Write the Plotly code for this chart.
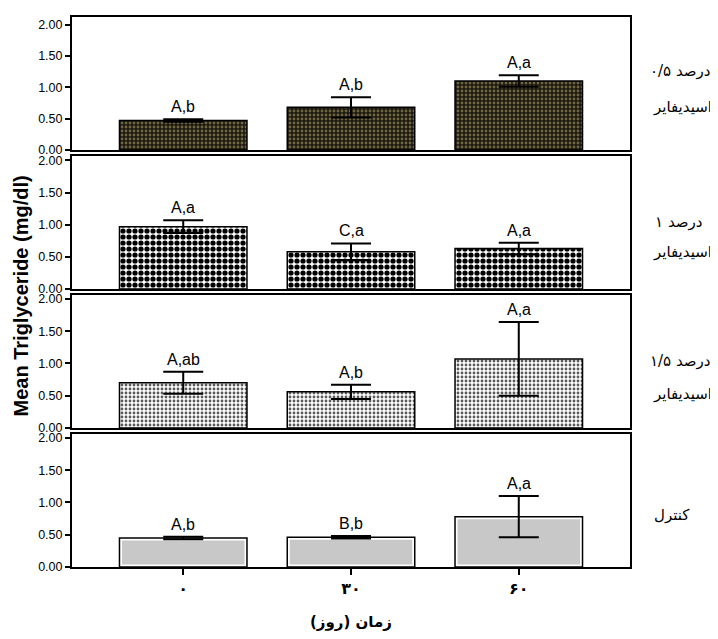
import plotly.graph_objects as go
from plotly.subplots import make_subplots

days = ["۰", "۳۰", "۶۰"]

acid05_mean = [0.47, 0.68, 1.10]
acid05_err = [0.02, 0.16, 0.09]
acid05_lab = ["A,b", "A,b", "A,a"]

acid1_mean = [0.97, 0.58, 0.63]
acid1_err = [0.10, 0.13, 0.09]
acid1_lab = ["A,a", "C,a", "A,a"]

acid15_mean = [0.70, 0.56, 1.07]
acid15_err = [0.17, 0.11, 0.57]
acid15_lab = ["A,ab", "A,b", "A,a"]

ctrl_mean = [0.45, 0.46, 0.78]
ctrl_err = [0.02, 0.02, 0.32]
ctrl_lab = ["A,b", "B,b", "A,a"]

# panel labels: (dose number, word "percent", second line)
dose_nums = ["۰/۵", "۱", "۱/۵", None]
percent_word = "درصد"
acid_word = "اسیدیفایر"
control_word = "کنترل"

y_ticks = [0, 0.5, 1.0, 1.5, 2.0]
y_title = "Mean Triglyceride (mg/dl)"
x_title = "زمان (روز)"

FONT = "Liberation Sans, Arial, DejaVu Sans, sans-serif"
FA_FONT = "DejaVu Sans, sans-serif"

OFF = 8  # default body margin of the html page
W, H = 718 - OFF, 639 - OFF
ML, MT = 72 - OFF, 14 - OFF
MR = W - (630 - OFF)
MB = H - (567 - OFF)
PW, PH = W - ML - MR, H - MT - MB


def px_x(px):
    return (px - 72) / PW


def px_y(py):
    return 1 - (py - 14) / PH


fig = make_subplots(rows=4, cols=1, shared_xaxes=True, vertical_spacing=6 / PH)

series = [
    (acid05_mean, acid05_err, acid05_lab,
     dict(fillmode="replace", shape=".", bgcolor="#1c1810", fgcolor="#6e6640", size=4, solidity=0.4), "#1c1810"),
    (acid1_mean, acid1_err, acid1_lab,
     dict(fillmode="replace", shape=".", bgcolor="#ffffff", fgcolor="#000000", size=6, solidity=0.6), "#ffffff"),
    (acid15_mean, acid15_err, acid15_lab,
     dict(fillmode="replace", shape=".", bgcolor="#ffffff", fgcolor="#5a5a5a", size=4, solidity=0.4), "#ffffff"),
    (ctrl_mean, ctrl_err, ctrl_lab, None, "#c8c8c8"),
]

for i, (m, e, labs, pat, col) in enumerate(series):
    r = i + 1
    err = dict(type="data", array=e, visible=True, color="black", thickness=2, width=20)
    if pat is not None:
        marker = dict(color=col, line=dict(color="black", width=1.5), pattern=pat)
        fig.add_trace(go.Bar(x=days, y=m, width=0.76, marker=marker, error_y=err,
                             showlegend=False), row=r, col=1)
    else:
        fig.add_trace(go.Bar(x=days, y=m, width=0.76,
                             marker=dict(color=col, line=dict(color="white", width=5)),
                             showlegend=False), row=r, col=1)
        fig.add_trace(go.Bar(x=days, y=m, width=0.76,
                             marker=dict(color="rgba(0,0,0,0)", line=dict(color="black", width=1.5)),
                             error_y=err, showlegend=False), row=r, col=1)
    axn = "" if r == 1 else str(r)
    for d, v, er, t in zip(days, m, e, labs):
        fig.add_annotation(x=d, y=v + er, xref="x" + axn, yref="y" + axn,
                           text=t, showarrow=False, yanchor="bottom", yshift=2,
                           font=dict(family=FONT, size=16, color="black"))

yr = [2.12, 2.07, 2.06, 2.06]
for r in range(1, 5):
    fig.update_yaxes(range=[0, yr[r - 1]], tickvals=y_ticks, tickformat=".2f",
                     showline=True, mirror=True, linecolor="black", linewidth=2,
                     ticks="outside", ticklen=5, tickwidth=2, tickcolor="black",
                     showgrid=False, zeroline=False,
                     tickfont=dict(family=FONT, size=12.5, color="black"),
                     row=r, col=1)
    fig.update_xaxes(range=[-0.663, 2.663], showline=True, mirror=True,
                     linecolor="black", linewidth=2, showgrid=False,
                     ticks="outside" if r == 4 else "", ticklen=6, tickwidth=2,
                     tickcolor="black", showticklabels=(r == 4),
                     tickfont=dict(family=FA_FONT, size=16, color="black", weight="bold"),
                     row=r, col=1)

# right-side panel labels (number and word placed separately for a fixed visual order)
line1_y = [68, 220, 360]
line2_y = [104, 250, 393]
word_right = [713, 705, 713]
lab_font = dict(family=FA_FONT, size=15, color="black")
for k in range(3):
    fig.add_annotation(x=px_x(word_right[k]), y=px_y(line1_y[k]), xref="paper", yref="paper",
                       text=percent_word, showarrow=False, xanchor="right", yanchor="middle",
                       font=lab_font)
    fig.add_annotation(x=px_x(word_right[k] - 40), y=px_y(line1_y[k]), xref="paper", yref="paper",
                       text=dose_nums[k], showarrow=False, xanchor="right", yanchor="middle",
                       font=lab_font)
    fig.add_annotation(x=px_x(682), y=px_y(line2_y[k]), xref="paper", yref="paper",
                       text=acid_word, showarrow=False, xanchor="center", yanchor="middle",
                       font=lab_font)
fig.add_annotation(x=px_x(652), y=px_y(515), xref="paper", yref="paper",
                   text=control_word, showarrow=False, xanchor="left", yanchor="middle",
                   font=lab_font)

fig.add_annotation(x=px_x(21), y=px_y(295), xref="paper", yref="paper",
                   text="<b>" + y_title + "</b>", textangle=-90, showarrow=False,
                   xanchor="center", yanchor="middle",
                   font=dict(family=FONT, size=20, color="black"))
fig.add_annotation(x=px_x(351), y=px_y(622), xref="paper", yref="paper",
                   text="<b>" + x_title + "</b>", showarrow=False,
                   xanchor="center", yanchor="middle",
                   font=dict(family=FA_FONT, size=15, color="black"))

fig.update_layout(width=W, height=H, margin=dict(l=ML, r=MR, t=MT, b=MB),
                  paper_bgcolor="white", plot_bgcolor="white", barmode="overlay")

fig.write_html("out.html")
